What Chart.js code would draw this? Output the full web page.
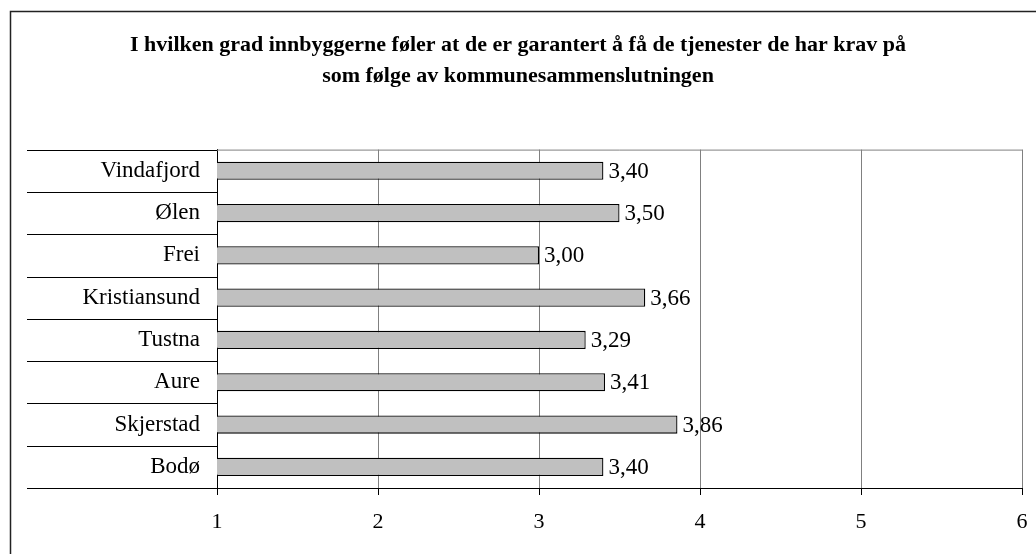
<!DOCTYPE html>
<html>
<head>
<meta charset="utf-8">
<script src="https://cdn.jsdelivr.net/npm/chart.js@4/dist/chart.umd.min.js"></script>
<style>
  html, body { margin: 0; padding: 0; background: #fff; }
  #wrap { width: 1036px; height: 554px; }
</style>
</head>
<body>
<div id="wrap"><canvas id="c" width="1036" height="554"></canvas></div>
<script>
const titleLines = [
  "I hvilken grad innbyggerne føler at de er garantert å få de tjenester de har krav på",
  "som følge av kommunesammenslutningen"
];
const categories = ["Vindafjord", "Ølen", "Frei", "Kristiansund", "Tustna", "Aure", "Skjerstad", "Bodø"];
const values = [3.40, 3.50, 3.00, 3.66, 3.29, 3.41, 3.86, 3.40];
const xMin = 1, xMax = 6, xStep = 1;

const FONT = "'Liberation Serif', 'Times New Roman', serif";

const framePlugin = {
  id: 'frame',
  beforeDraw(chart) {
    const ctx = chart.ctx;
    ctx.save();
    ctx.fillStyle = '#fff';
    ctx.fillRect(0, 0, chart.width, chart.height);
    ctx.strokeStyle = '#222';
    ctx.lineWidth = 1.5;
    ctx.strokeRect(10.5, 11.5, 1200, 1200);
    ctx.restore();
  },
  afterDraw(chart) {
    const ctx = chart.ctx;
    const a = chart.chartArea;
    ctx.save();
    ctx.strokeStyle = '#808080';
    ctx.lineWidth = 1;
    ctx.beginPath();
    ctx.moveTo(a.left, a.top + 0.5);
    ctx.lineTo(a.right + 0.5, a.top + 0.5);
    ctx.stroke();
    ctx.strokeStyle = '#000';
    const n = categories.length;
    const h = (a.bottom - a.top) / n;
    for (let i = 0; i <= n; i++) {
      const y = Math.round(a.top + i * h) + 0.5;
      ctx.beginPath();
      ctx.moveTo(27, y);
      ctx.lineTo(a.left, y);
      ctx.stroke();
    }
    ctx.restore();
  },
  afterDatasetsDraw(chart) {
    const ctx = chart.ctx;
    const meta = chart.getDatasetMeta(0);
    ctx.save();
    ctx.font = "23px " + FONT;
    ctx.fillStyle = '#000';
    ctx.textAlign = 'left';
    ctx.textBaseline = 'middle';
    meta.data.forEach((bar, i) => {
      const txt = values[i].toFixed(2).replace('.', ',');
      ctx.fillText(txt, bar.x + 5, bar.y + 1);
    });
    ctx.restore();
  }
};

new Chart(document.getElementById('c'), {
  type: 'bar',
  data: {
    labels: categories,
    datasets: [{
      data: values,
      backgroundColor: '#c0c0c0',
      borderColor: '#000',
      borderWidth: 1.3,
      borderSkipped: false,
      barPercentage: 0.43,
      categoryPercentage: 1.0
    }]
  },
  options: {
    indexAxis: 'y',
    responsive: false,
    animation: false,
    devicePixelRatio: 1,
    layout: { padding: { left: 0, right: 0, top: 0, bottom: 0 } },
    plugins: {
      legend: { display: false },
      tooltip: { enabled: false },
      title: {
        display: true,
        text: titleLines,
        color: '#000',
        font: { family: FONT, size: 22, weight: 'bold', lineHeight: 1.4 },
        padding: { top: 30, bottom: 58 }
      }
    },
    scales: {
      x: {
        type: 'linear',
        min: xMin, max: xMax,
        afterFit(s) { s.height = 66; s.paddingRight = 14; s.paddingLeft = 0; },
        ticks: {
          stepSize: xStep,
          color: '#000',
          font: { family: FONT, size: 22 },
          padding: 14
        },
        grid: {
          color: '#808080',
          tickColor: '#000',
          tickLength: 7,
          drawTicks: true
        },
        border: { color: '#000', width: 1 }
      },
      y: {
        afterFit(s) { s.width = 217; },
        ticks: {
          color: '#000',
          font: { family: FONT, size: 23 },
          padding: 17
        },
        grid: { drawOnChartArea: false, drawTicks: false },
        border: { color: '#000', width: 1 }
      }
    }
  },
  plugins: [framePlugin]
});
</script>
</body>
</html>
